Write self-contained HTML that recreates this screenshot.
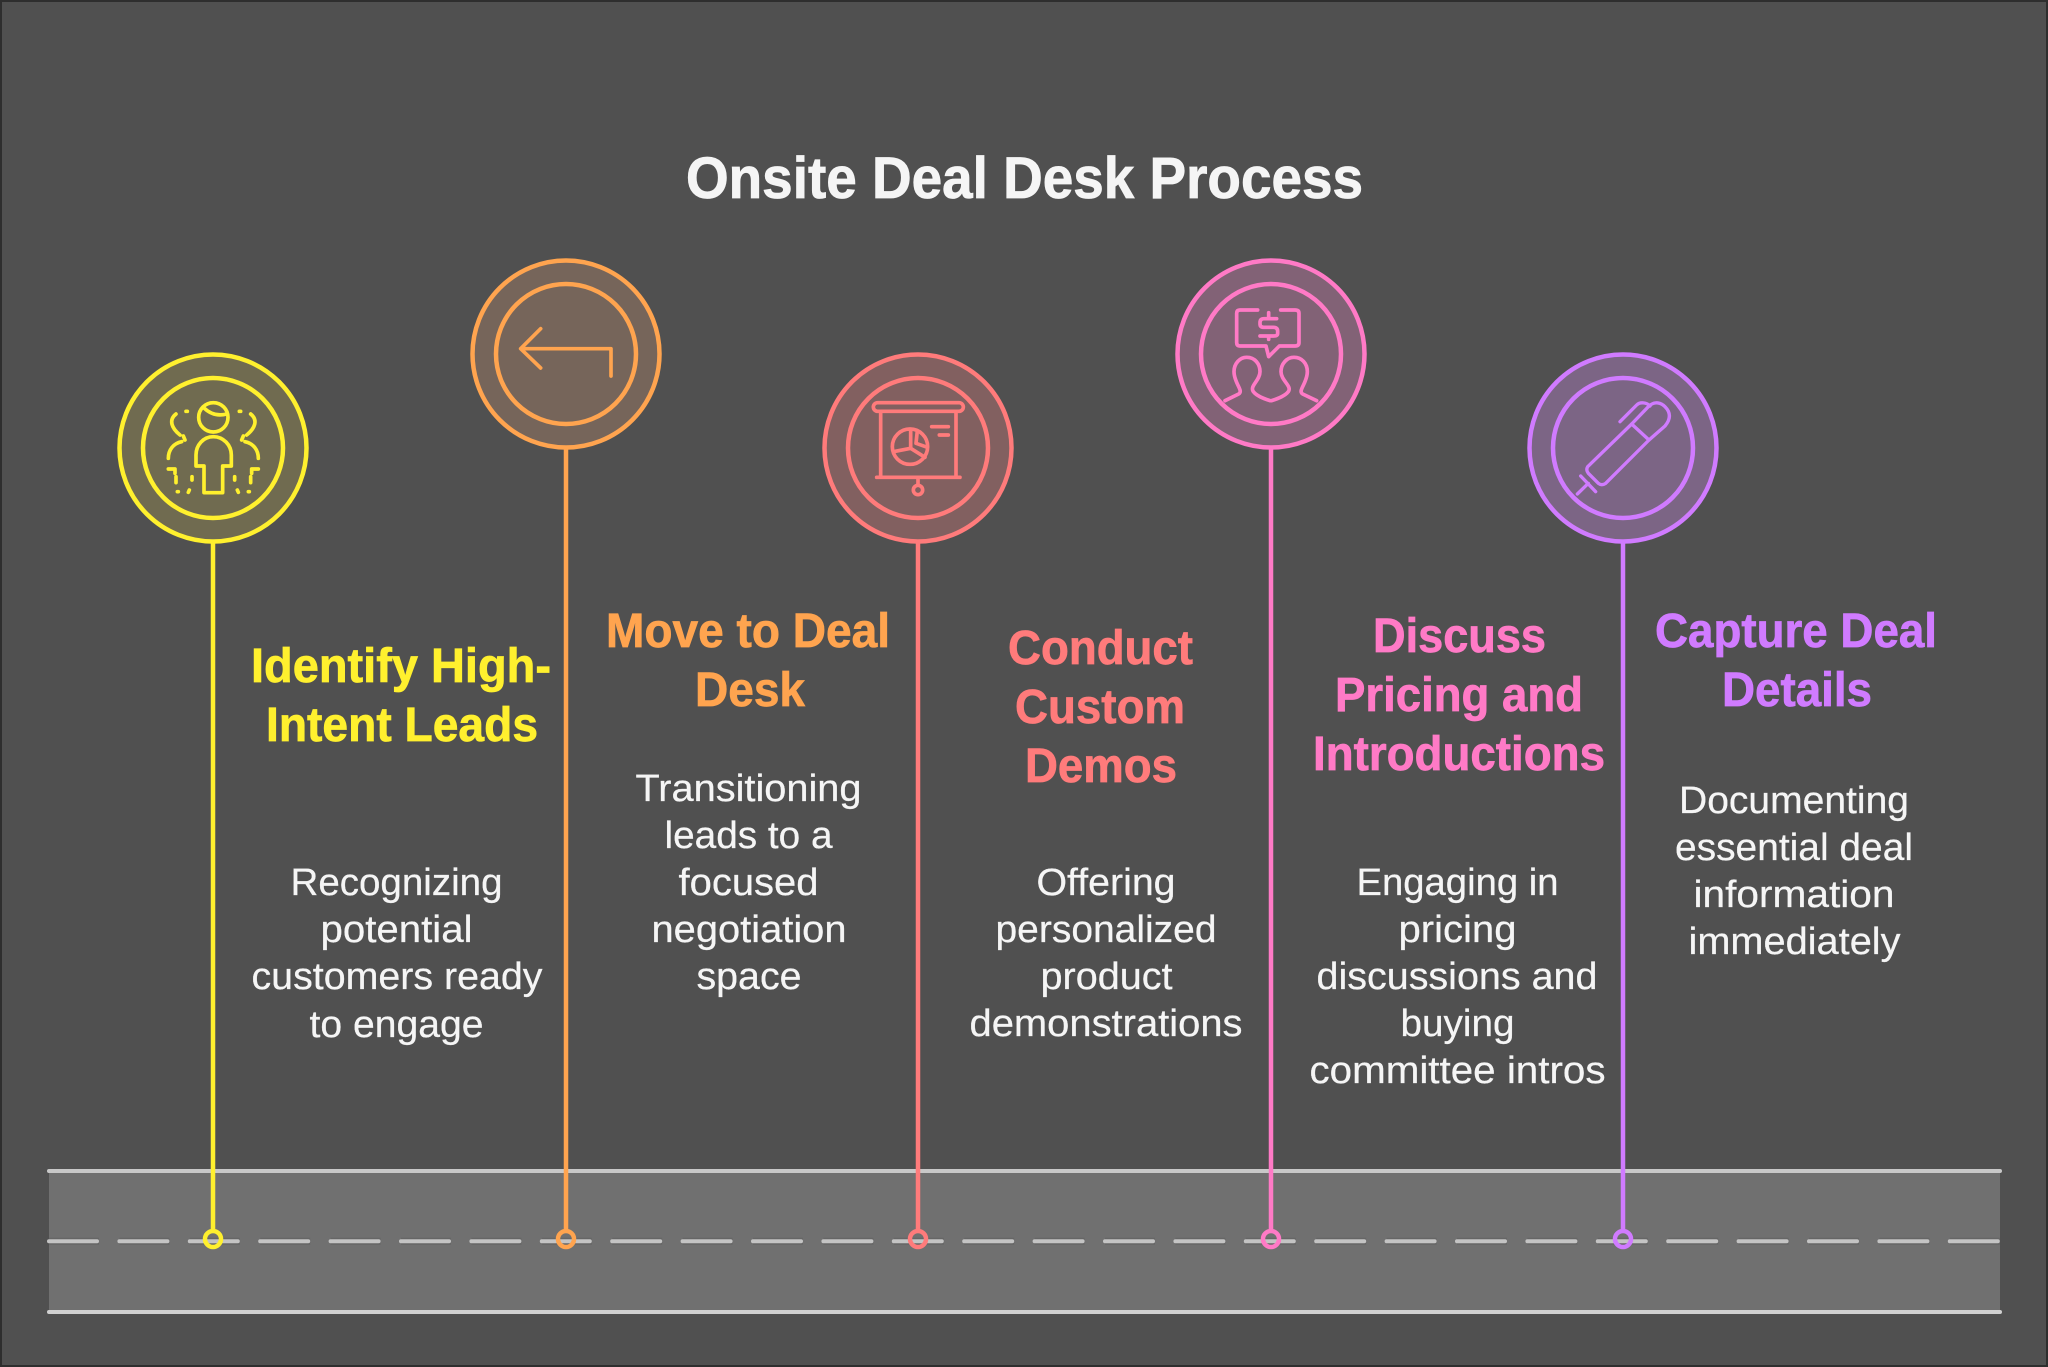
<!DOCTYPE html>
<html><head><meta charset="utf-8"><style>
html,body{margin:0;padding:0;background:#505050}
svg{display:block}
text{font-family:"Liberation Sans",sans-serif}
.h{font-weight:700;font-size:48px;stroke-width:.7}
.b{font-size:38px;fill:#f5f5f5;stroke:#f5f5f5;stroke-width:.25}
.i{fill:none;stroke-linecap:round;stroke-linejoin:round;stroke-width:11}
</style></head><body>
<svg width="2048" height="1367" viewBox="0 0 2048 1367" xmlns="http://www.w3.org/2000/svg">
<rect x="1" y="1" width="2046" height="1365" fill="#505050" stroke="#2e2e2e" stroke-width="2"/>
<rect x="49" y="1171" width="1951" height="141" fill="#707070"/>
<g stroke-linecap="round" stroke-width="4" fill="none">
<path d="M49 1171H2000" stroke="#c8c8c8"/>
<path d="M49 1312H2000" stroke="#d0d0d0"/>
<path d="M49 1241.3H2000" stroke="#5f5f5f" stroke-width="7" stroke-dasharray="50 20.4" stroke-linecap="butt" opacity=".6"/>
<path d="M49 1241.3H2000" stroke="#c4c4c4" stroke-dasharray="48 22.4"/>
</g>
<text x="686" y="198" font-size="58" font-weight="700" fill="#f5f5f5" stroke="#f5f5f5" stroke-width=".8" textLength="677" lengthAdjust="spacingAndGlyphs">Onsite Deal Desk Process</text>

<!-- 1 -->
<g fill="none" stroke="#fff02e" stroke-width="4.5">
<circle cx="213" cy="448" r="93.5" fill="#706b50"/><circle cx="213" cy="448" r="70"/>
<path d="M213 541V1233"/><circle cx="213" cy="1239" r="8"/>
</g>
<g transform="translate(100 340) scale(.33333)" class="i" stroke="#fff02e">
<circle cx="340" cy="232" r="44"/><path d="M313 205Q342 232 380 222"/>
<path d="M340 290C310 290 288 315 288 345V378H312V458H368V378H394V345C394 315 370 290 340 290Z"/>
<path d="M228 222C205 240 215 265 240 285M258 214h4M250 288l5 12M245 305C220 310 205 330 205 355M205 387H225V400M228 410V428M276 410V420M232 455h3M268 450l-3 7"/>
<path d="M452 222C475 240 465 265 440 285M422 214h-4M430 288l-5 12M435 305C460 310 475 330 475 355M475 387H455V400M452 410V428M404 410V420M448 455h-3M412 450l3 7"/>
</g>
<g fill="#fff02e" stroke="#fff02e">
<text class="h" x="251" y="682" textLength="300" lengthAdjust="spacingAndGlyphs">Identify High-</text>
<text class="h" x="266" y="741" textLength="272" lengthAdjust="spacingAndGlyphs">Intent Leads</text>
</g>
<text class="b" x="290.5" y="895" textLength="212" lengthAdjust="spacingAndGlyphs">Recognizing</text>
<text class="b" x="320.5" y="942" textLength="152" lengthAdjust="spacingAndGlyphs">potential</text>
<text class="b" x="251.5" y="989" textLength="291" lengthAdjust="spacingAndGlyphs">customers ready</text>
<text class="b" x="309.5" y="1037" textLength="174" lengthAdjust="spacingAndGlyphs">to engage</text>

<!-- 2 -->
<g fill="none" stroke="#ffa44f" stroke-width="4.5">
<circle cx="566" cy="354" r="93.5" fill="#76655a"/><circle cx="566" cy="354" r="70"/>
<path d="M566 447V1233"/><circle cx="566" cy="1239" r="8"/>
</g>
<g transform="translate(460 250) scale(.33333)" class="i" stroke="#ffa44f">
<path d="M453 378V296H182M242 236L182 296L242 354"/>
</g>
<g fill="#ffa44f" stroke="#ffa44f">
<text class="h" x="606" y="647" textLength="284" lengthAdjust="spacingAndGlyphs">Move to Deal</text>
<text class="h" x="695" y="706" textLength="110" lengthAdjust="spacingAndGlyphs">Desk</text>
</g>
<text class="b" x="635.5" y="801" textLength="226" lengthAdjust="spacingAndGlyphs">Transitioning</text>
<text class="b" x="664.5" y="848" textLength="168" lengthAdjust="spacingAndGlyphs">leads to a</text>
<text class="b" x="678.5" y="895" textLength="140" lengthAdjust="spacingAndGlyphs">focused</text>
<text class="b" x="651.5" y="942" textLength="195" lengthAdjust="spacingAndGlyphs">negotiation</text>
<text class="b" x="696.5" y="989" textLength="105" lengthAdjust="spacingAndGlyphs">space</text>

<!-- 3 -->
<g fill="none" stroke="#ff7b7b" stroke-width="4.5">
<circle cx="918" cy="448" r="93.5" fill="#826060"/><circle cx="918" cy="448" r="70"/>
<path d="M918 541V1233"/><circle cx="918" cy="1239" r="8"/>
</g>
<g transform="translate(810 340) scale(.33333)" class="i" stroke="#ff7b7b">
<rect x="190" y="188" width="270" height="26" rx="13"/>
<path d="M212 214V412M438 214V412M200 412H450M324 412V434"/>
<circle cx="324" cy="450" r="14"/>
<circle cx="300" cy="320" r="53"/>
<path d="M302 268V325L250 335M302 325L345 352M322 272L318 310L352 322"/>
<path d="M365 260H415M388 285H415"/>
</g>
<g fill="#ff7b7b" stroke="#ff7b7b">
<text class="h" x="1008" y="664" textLength="185" lengthAdjust="spacingAndGlyphs">Conduct</text>
<text class="h" x="1015" y="723" textLength="170" lengthAdjust="spacingAndGlyphs">Custom</text>
<text class="h" x="1025" y="782" textLength="152" lengthAdjust="spacingAndGlyphs">Demos</text>
</g>
<text class="b" x="1036.5" y="895" textLength="139" lengthAdjust="spacingAndGlyphs">Offering</text>
<text class="b" x="995.5" y="942" textLength="221" lengthAdjust="spacingAndGlyphs">personalized</text>
<text class="b" x="1040.5" y="989" textLength="132" lengthAdjust="spacingAndGlyphs">product</text>
<text class="b" x="969.5" y="1036" textLength="273" lengthAdjust="spacingAndGlyphs">demonstrations</text>

<!-- 4 -->
<g fill="none" stroke="#ff7ac6" stroke-width="4.5">
<circle cx="1271" cy="354" r="93.5" fill="#826276"/><circle cx="1271" cy="354" r="70"/>
<path d="M1271 447V1233"/><circle cx="1271" cy="1239" r="8"/>
</g>
<g transform="translate(1160 250) scale(.33333)" class="i" stroke="#ff7ac6">
<path d="M293 180H240Q230 180 230 190V278Q230 288 240 288H318L326 320L358 288H405Q417 288 417 278V190Q417 180 405 180H362"/>
<path d="M350 206H312Q300 206 300 218V222Q300 232 312 232H340Q353 232 353 244V250Q353 258 340 258H300M326 188V206M326 258V268"/>
<path d="M195 452L236 432C252 422 222 400 222 365C222 340 240 322 260 322C285 322 300 342 300 365C300 392 268 408 280 425C290 438 310 445 330 452"/>
<path d="M335 452C355 445 375 438 385 425C397 408 363 392 363 365C363 342 380 322 402 322C425 322 442 340 442 365C442 400 412 422 428 432L470 452"/>
</g>
<g fill="#ff7ac6" stroke="#ff7ac6">
<text class="h" x="1373" y="652" textLength="173" lengthAdjust="spacingAndGlyphs">Discuss</text>
<text class="h" x="1335" y="711" textLength="248" lengthAdjust="spacingAndGlyphs">Pricing and</text>
<text class="h" x="1313" y="770" textLength="292" lengthAdjust="spacingAndGlyphs">Introductions</text>
</g>
<text class="b" x="1356.5" y="895" textLength="202" lengthAdjust="spacingAndGlyphs">Engaging in</text>
<text class="b" x="1398.5" y="942" textLength="118" lengthAdjust="spacingAndGlyphs">pricing</text>
<text class="b" x="1316.5" y="989" textLength="281" lengthAdjust="spacingAndGlyphs">discussions and</text>
<text class="b" x="1400.5" y="1036" textLength="114" lengthAdjust="spacingAndGlyphs">buying</text>
<text class="b" x="1309.5" y="1083" textLength="296" lengthAdjust="spacingAndGlyphs">committee intros</text>

<!-- 5 -->
<g fill="none" stroke="#d07bff" stroke-width="4.5">
<circle cx="1623" cy="448" r="93.5" fill="#7c6585"/><circle cx="1623" cy="448" r="70"/>
<path d="M1623 541V1233"/><circle cx="1623" cy="1239" r="8"/>
</g>
<g transform="translate(1515 340) scale(.33333)" class="i" stroke="#d07bff" style="stroke-width:10">
<path d="M350 252L218 380Q212 390 220 400L250 430Q260 438 272 430L402 300"/>
<path d="M350 252L400 200C420 180 440 190 450 200C470 220 465 240 450 258L402 300Z"/>
<path d="M315 245L365 195C375 185 395 187 405 198"/>
<path d="M187 462L220 430M197 408L242 455"/>
</g>
<g fill="#d07bff" stroke="#d07bff">
<text class="h" x="1655" y="647" textLength="282" lengthAdjust="spacingAndGlyphs">Capture Deal</text>
<text class="h" x="1722" y="706" textLength="150" lengthAdjust="spacingAndGlyphs">Details</text>
</g>
<text class="b" x="1679" y="813" textLength="230" lengthAdjust="spacingAndGlyphs">Documenting</text>
<text class="b" x="1675" y="860" textLength="238" lengthAdjust="spacingAndGlyphs">essential deal</text>
<text class="b" x="1693.5" y="907" textLength="201" lengthAdjust="spacingAndGlyphs">information</text>
<text class="b" x="1688.5" y="954" textLength="212" lengthAdjust="spacingAndGlyphs">immediately</text>
</svg>
</body></html>
